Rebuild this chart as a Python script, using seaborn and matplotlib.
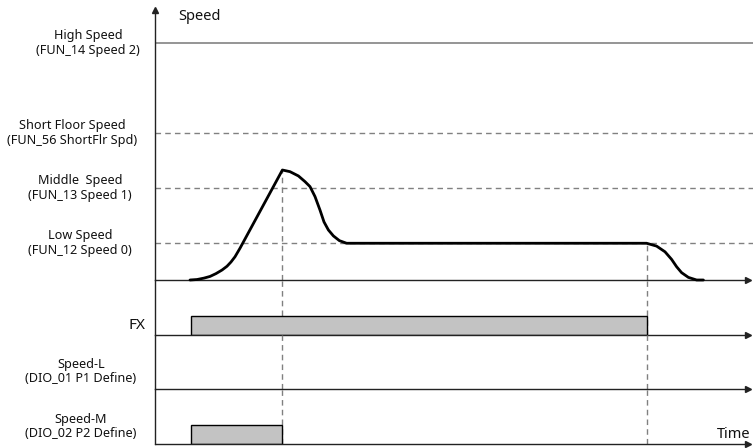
#!/usr/bin/env python3
# -*- coding: utf-8 -*-
import numpy as np
import seaborn as sns
import matplotlib
matplotlib.use('Agg')
import matplotlib.pyplot as plt
import matplotlib.transforms as mtrans

sns.set_theme(style='white')
plt.rcParams['font.family'] = ['Noto Sans', 'DejaVu Sans']
plt.rcParams['font.size'] = 9.1
plt.rcParams['text.color'] = '#111111'

#------------------------------------------------------------------------------
# Data (time in arbitrary units, speed in % of high speed)
#------------------------------------------------------------------------------
speed_levels = [100.0, 62.0, 38.8, 15.6]
level_names = ['High Speed\n(FUN_14 Speed 2)',
               'Short Floor Speed\n(FUN_56 ShortFlr Spd)',
               'Middle  Speed\n(FUN_13 Speed 1)',
               'Low Speed\n(FUN_12 Speed 0)']
level_dashed = [False, True, True, True]

curve_t = [1.75, 2.1, 2.45, 2.75, 3.05, 3.35, 3.6, 3.8, 4.0, 4.25,
           6.37, 6.75, 7.17, 7.5, 7.75, 8.0, 8.25, 8.45, 8.67, 8.92, 9.22, 9.58,
           24.58, 25.08, 25.5, 25.83, 26.08, 26.33, 26.67, 27.08, 27.42]
curve_v = [0.0, 0.2, 0.8, 1.5, 2.7, 4.2, 5.8, 7.6, 9.8, 13.4,
           46.4, 45.7, 43.9, 41.5, 39.4, 35.2, 29.5, 24.5, 21.1, 18.6, 16.6, 15.5,
           15.5, 14.3, 11.9, 8.7, 5.6, 3.1, 1.1, 0.0, 0.0]

t_peak = 6.37
v_peak = 46.4
t_stop = 24.58

lane_names = ['FX', 'Speed-L\n(DIO_01 P1 Define)', 'Speed-M\n(DIO_02 P2 Define)']
lane_on = [1.8, None, 1.8]
lane_off = [24.58, None, 6.37]

t_max = 29.9
t_arrow = 29.65
v_max = 113.9

#------------------------------------------------------------------------------
# Layout
#------------------------------------------------------------------------------
W, H = 753, 448
fig = plt.figure(figsize=(W / 100, H / 100), dpi=100)

def px_axes(top, bottom):
    return fig.add_axes([155 / W, 1 - bottom / H, 1 - 155 / W, (bottom - top) / H])

ax = px_axes(10, 280)
lanes = [px_axes(280, 335), px_axes(335, 389), px_axes(389, 444)]

dash = (0, (4, 3))
axis_col = '#222222'

# speed panel
ax.set_xlim(0, t_max)
ax.set_ylim(0, v_max)
for lvl, name, dashed in zip(speed_levels, level_names, level_dashed):
    if dashed:
        ax.axhline(lvl, color='#808080', lw=1.0, ls=dash)
    else:
        ax.axhline(lvl, color='#8c8c8c', lw=1.3)

sns.lineplot(x=curve_t, y=curve_v, ax=ax, color='black', lw=2.0, sort=False,
             zorder=5, clip_on=False)
ax.vlines(t_peak, 0, v_peak, color='#808080', lw=1.0, ls=dash)
ax.vlines(t_stop, 0, speed_levels[3], color='#808080', lw=1.0, ls=dash)
ax.plot([0, t_arrow], [0, 0], color=axis_col, lw=1.0, clip_on=False)
ax.plot(t_arrow, 0, '>', color=axis_col, ms=5, clip_on=False)
ax.plot(0, v_max, '^', color=axis_col, ms=5, clip_on=False)

trans = mtrans.blended_transform_factory(fig.transFigure, ax.transData)
ax.text(178 / W, v_max + 0.5, 'Speed', transform=trans, ha='left', va='top', fontsize=10.5)

label_x = [88, 72, 80, 80]
for lvl, name, lx in zip(speed_levels, level_names, label_x):
    ax.text(lx / W, lvl, name, transform=trans, ha='center', va='center',
            multialignment='center', linespacing=1.15)

# signal lanes
lane_x = [146, 81, 81]
lane_ha = ['right', 'center', 'center']
lane_y = [0.18, 0.32, 0.32]
for lax, name, on, off, lx, ha, ly in zip(lanes, lane_names, lane_on, lane_off,
                                          lane_x, lane_ha, lane_y):
    lax.set_xlim(0, t_max)
    lax.set_ylim(0, 1)
    if on is not None:
        lax.bar(on, 0.345, width=off - on, align='edge', color='#c3c3c3',
                edgecolor='black', lw=1.0, zorder=3)
    lax.axvline(t_peak, color='#808080', lw=1.0, ls=dash, zorder=1)
    lax.axvline(t_stop, color='#808080', lw=1.0, ls=dash, zorder=1)
    lax.plot([0, t_arrow], [0, 0], color=axis_col, lw=1.0, clip_on=False, zorder=4)
    lax.plot(t_arrow, 0, '>', color=axis_col, ms=5, clip_on=False)
    tr = mtrans.blended_transform_factory(fig.transFigure, lax.transAxes)
    lax.text(lx / W, ly, name, transform=tr, ha=ha, va='center',
             multialignment='center', linespacing=1.15,
             fontsize=11 if name == 'FX' else 9.1)

lanes[2].text(0.995, 0.03, 'Time', transform=lanes[2].transAxes, ha='right',
              va='bottom', fontsize=10.5)

for a in [ax] + lanes:
    a.set_xticks([])
    a.set_yticks([])
    a.set_facecolor('none')
    for s in ['top', 'right', 'bottom']:
        a.spines[s].set_visible(False)
    a.spines['left'].set_color(axis_col)
    a.spines['left'].set_linewidth(1.0)

fig.savefig('out.png', dpi=100)
